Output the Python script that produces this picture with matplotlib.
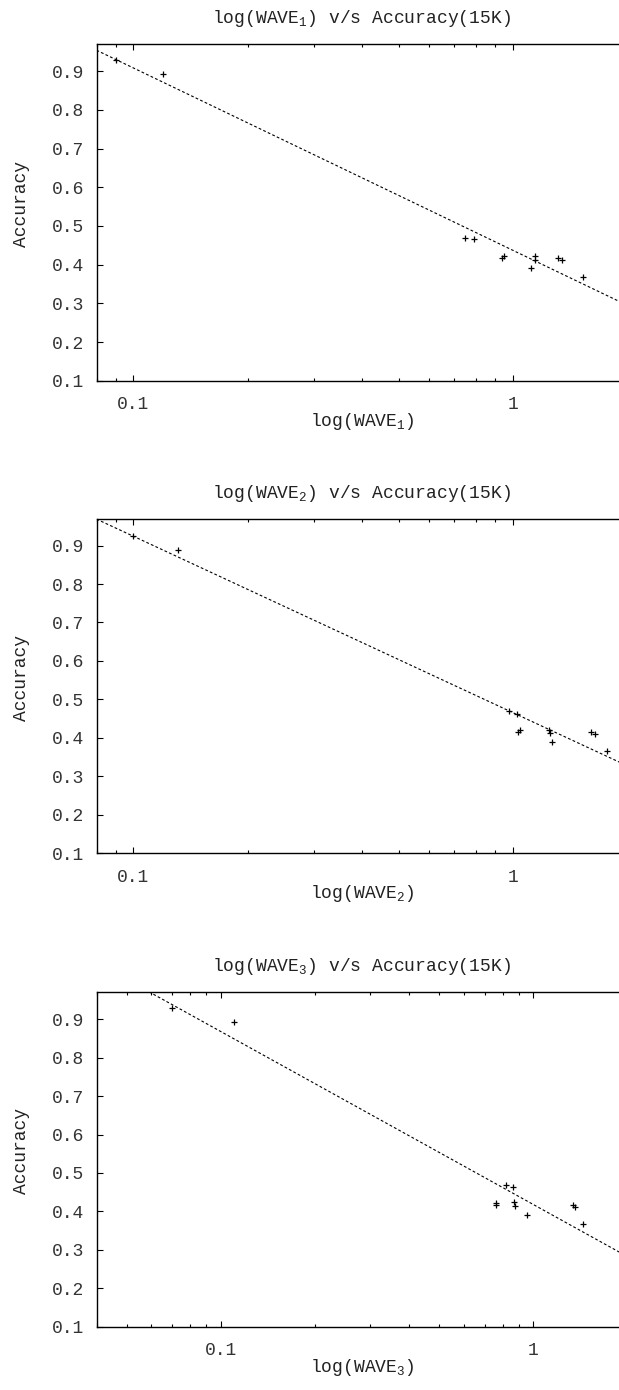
import numpy as np
import matplotlib
matplotlib.use('Agg')
import matplotlib.pyplot as plt
from matplotlib.ticker import FixedLocator, NullFormatter, LogLocator

plt.rcParams['font.family'] = ['Liberation Mono', 'DejaVu Sans Mono']
plt.rcParams['mathtext.default'] = 'regular'
plt.rcParams['font.size'] = 13

# wave measure vs accuracy, one list pair per panel
wave1 = [0.090, 0.120, 0.749, 0.789, 0.939, 0.947, 1.117, 1.145, 1.145, 1.318, 1.345, 1.531]
acc1 = [0.929, 0.893, 0.470, 0.465, 0.418, 0.422, 0.392, 0.422, 0.413, 0.418, 0.411, 0.369]

wave2 = [0.100, 0.131, 0.980, 1.026, 1.045, 1.034, 1.246, 1.254, 1.266, 1.604, 1.646, 1.768]
acc2 = [0.925, 0.888, 0.469, 0.463, 0.421, 0.415, 0.421, 0.413, 0.389, 0.415, 0.409, 0.366]

wave3 = [0.070, 0.1105, 0.817, 0.860, 0.759, 0.762, 0.867, 0.878, 0.957, 1.339, 1.366, 1.445]
acc3 = [0.929, 0.892, 0.470, 0.464, 0.421, 0.418, 0.424, 0.415, 0.391, 0.417, 0.411, 0.367]

xlims = [(0.08, 2), (0.08, 2), (0.04, 2)]
yticks = [0.1, 0.2, 0.3, 0.4, 0.5, 0.6, 0.7, 0.8, 0.9]
xticks = [0.1, 1]
xticklabels = ['0.1', '1']

# axes boxes in figure fraction (right edge runs past the canvas like the original)
boxes = [(0.1559, 0.7261, 0.857, 0.2422),
         (0.1559, 0.3861, 0.857, 0.2408),
         (0.1559, 0.0455, 0.857, 0.2406)]

fig = plt.figure(figsize=(6.19, 13.9), dpi=100)

for i, (w, a) in enumerate([(wave1, acc1), (wave2, acc2), (wave3, acc3)], 1):
    ax = fig.add_axes(boxes[i - 1])
    ax.set_xscale('log')

    # least squares fit of accuracy against log10(wave)
    slope, icept = np.polyfit(np.log10(w), a, 1)
    lx = np.logspace(np.log10(xlims[i - 1][0]), np.log10(xlims[i - 1][1]), 50)
    ax.plot(lx, slope * np.log10(lx) + icept, color='black', lw=0.8, ls=(0, (2.5, 2)))
    ax.plot(w, a, '+', color='black', ms=4.5, mew=0.9)

    ax.set_xlim(*xlims[i - 1])
    ax.set_ylim(0.1, 0.97)
    ax.xaxis.set_major_locator(FixedLocator(xticks))
    ax.set_xticklabels(xticklabels)
    ax.xaxis.set_minor_locator(LogLocator(base=10, subs=np.arange(2, 10)))
    ax.xaxis.set_minor_formatter(NullFormatter())
    ax.set_yticks(yticks)
    ax.set_yticklabels(['%.1f' % t for t in yticks])

    ax.tick_params(which='both', direction='in', top=True, right=True, width=0.8)
    ax.tick_params(which='major', length=4)
    ax.tick_params(which='minor', length=2)
    ax.tick_params(axis='y', pad=9, labelcolor='#333333')
    ax.tick_params(axis='x', pad=11, labelcolor='#333333')
    for s in ax.spines.values():
        s.set_linewidth(1.0)

    ax.set_title('log(WAVE$_%d$) v/s Accuracy(15K)' % i, pad=15, fontsize=13, color='#222222')
    ax.set_xlabel('log(WAVE$_%d$)' % i, color='#222222')
    ax.set_ylabel('Accuracy', color='#222222')
    ax.xaxis.set_label_coords(0.5, -0.09)
    ax.yaxis.set_label_coords(-0.126, 0.525)

plt.savefig('out.png', dpi=100)
